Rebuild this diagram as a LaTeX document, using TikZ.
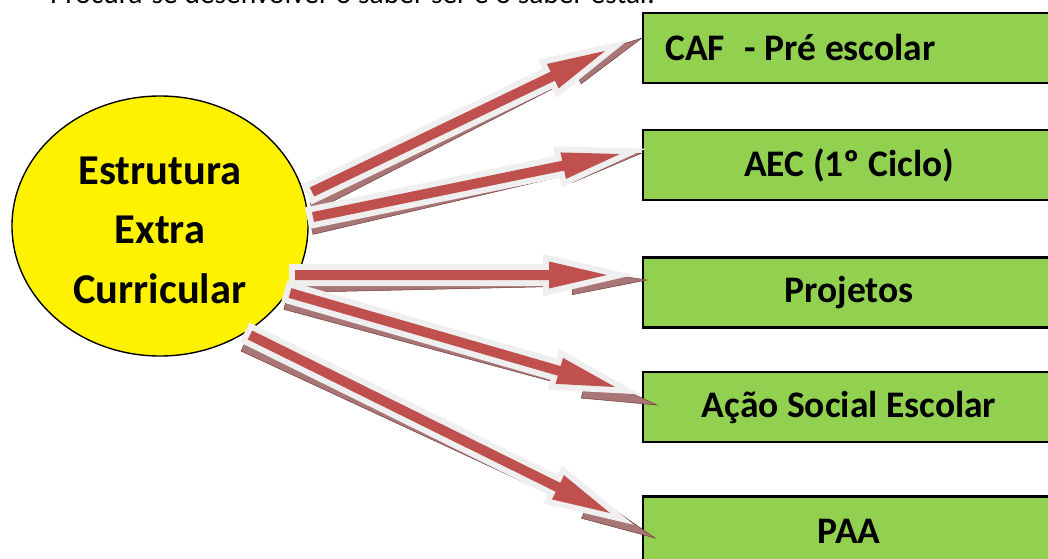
\documentclass[tikz,border=0pt]{standalone}
\usepackage{fontspec}
\setmainfont{Carlito}
\usetikzlibrary{calc,shapes.geometric}
\definecolor{boxgreen}{HTML}{92D050}
\definecolor{arrred}{HTML}{C0504D}
\definecolor{glow}{HTML}{EFEFEF}
\definecolor{shadowc}{RGB}{168,118,118}
\definecolor{shadowline}{RGB}{120,60,60}
\newcommand\blockarr[6]{%
  \coordinate (ba-h) at ($(#2)!#5!(#1)$);
  \path[#6] ($(#1)!#3!90:(#2)$) -- ($(ba-h)!#3!90:(#2)$) -- ($(ba-h)!#4!90:(#2)$) -- (#2)
    -- ($(ba-h)!#4!-90:(#2)$) -- ($(ba-h)!#3!-90:(#2)$) -- ($(#1)!#3!-90:(#2)$) -- cycle;
}
\tikzset{
  box/.style={draw=black, line width=2.6pt, fill=boxgreen, minimum width=412pt, minimum height=70pt, inner sep=0pt},
  boxtext/.style={font=\bfseries\fontsize{37.5}{42}\selectfont, inner sep=0pt},
  hub/.style={ellipse, draw=black, line width=1.4pt, fill=yellow, minimum width=296pt, minimum height=260pt, inner sep=0pt},
  redarr/.style={preaction={draw=glow, line width=12pt, line join=miter, miter limit=12}, fill=arrred},
  shadarr/.style={fill=shadowc, draw=shadowline, line width=0.5pt},
}
\begin{document}
\begin{tikzpicture}[x=1pt,y=-1pt]
\useasboundingbox (0,0) rectangle (1048,558);
\clip (0,0) rectangle (1048,558);
% top cut-off text
\node[anchor=base west, inner sep=0pt, font=\fontsize{29.5}{34}\selectfont] (intro) at (50,3.5) {Procura-se desenvolver o saber ser e o saber estar.};
% hub
\node[hub] (hub) at (160,226) {};
\node[align=center, inner sep=0pt, font=\bfseries\fontsize{42.5}{59.5}\selectfont] (hubt) at (160,230) {Estrutura\\Extra\\Curricular};
% boxes
\node[box] (caf) at (849,48) {};
\node[boxtext, anchor=base west] (caft) at (665,60) {CAF\hspace{20pt}- Pré escolar};
\node[box] (aec) at (849,165) {};
\node[boxtext] at (aec) {AEC (1º Ciclo)};
\node[box] (proj) at (849,292.5) {};
\node[boxtext] at (proj) {Projetos};
\node[box] (acao) at (849,407) {};
\node[boxtext] at (acao) {Ação Social Escolar};
\node[box] (paa) at (849,531.5) {};
\node[boxtext] at (849,531.5) {PAA};
% arrow end points
\coordinate (s1) at (312,192); \coordinate (e1) at (605,51);
\coordinate (s2) at (313,217); \coordinate (e2) at (620,154);
\coordinate (s3) at (295,275); \coordinate (e3) at (607,275);
\coordinate (s4) at (290,293); \coordinate (e4) at (615,387);
\coordinate (s5) at (250,335); \coordinate (e5) at (610,513);
\coordinate (t1) at (312,207); \coordinate (f1) at (642,38);
\coordinate (t2) at (312,230); \coordinate (f2) at (642,153);
\coordinate (t3) at (290,288); \coordinate (f3) at (647,280);
\coordinate (t4) at (285,305); \coordinate (f4) at (657,405);
\coordinate (t5) at (243,347); \coordinate (f5) at (655,538);
% shadows
\blockarr{t1}{f1}{4.5pt}{13pt}{75pt}{shadarr}
\blockarr{t2}{f2}{4.5pt}{13pt}{75pt}{shadarr}
\blockarr{t3}{f3}{4.5pt}{13pt}{75pt}{shadarr}
\blockarr{t4}{f4}{4.5pt}{13pt}{75pt}{shadarr}
\blockarr{t5}{f5}{4.5pt}{13pt}{75pt}{shadarr}
% arrows
\blockarr{s1}{e1}{5pt}{13.5pt}{58pt}{redarr}
\blockarr{s2}{e2}{5pt}{13.5pt}{58pt}{redarr}
\blockarr{s3}{e3}{5pt}{13.5pt}{58pt}{redarr}
\blockarr{s4}{e4}{5pt}{13.5pt}{58pt}{redarr}
\blockarr{s5}{e5}{5pt}{13.5pt}{58pt}{redarr}
\end{tikzpicture}
\end{document}
